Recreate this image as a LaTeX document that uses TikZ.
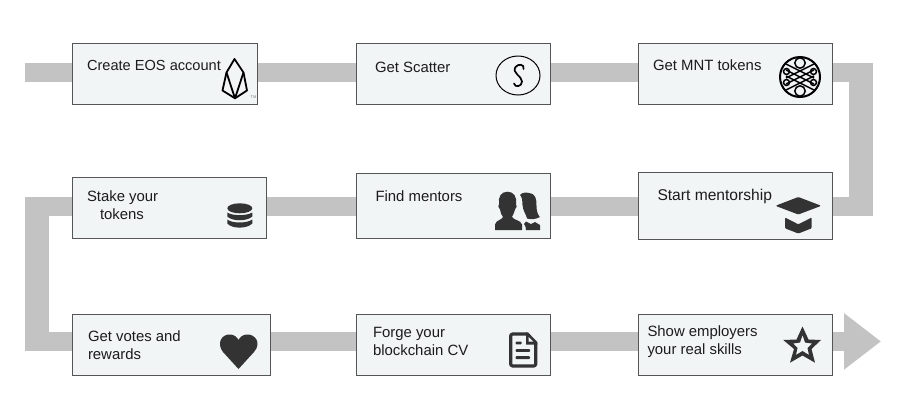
\documentclass[tikz,border=0pt]{standalone}
\usepackage{fontspec}
\setmainfont{Liberation Sans}
\usetikzlibrary{arrows.meta,backgrounds}
\definecolor{bandgray}{HTML}{C3C3C3}
\definecolor{boxfill}{HTML}{F1F5F6}
\definecolor{boxline}{HTML}{555555}
\definecolor{icondark}{HTML}{333333}
\definecolor{textdark}{HTML}{1C1C1C}
\tikzset{
  band/.style={draw=bandgray,line width=19pt,line join=miter},
  bandv/.style={draw=bandgray,line width=24pt},
  box/.style={draw=boxline,fill=boxfill,line width=0.9pt,inner sep=0pt,outer sep=0pt},
  lab/.style={anchor=base west,inner sep=0pt,outer sep=0pt,text=textdark,font=\fontsize{14.9}{17}\selectfont},
  iconline/.style={draw=black,line width=1.8pt,line join=round,fill=none},
  knot/.style={draw=black,line width=1.5pt},
}
\newcommand{\mkbox}[5]{\node[box,minimum width=#4-#2,minimum height=#5-#3] (#1) at ({(#2+#4)/2},{(#3+#5)/2}) {};}
\begin{document}
\begin{tikzpicture}[x=1pt,y=-1pt]
\useasboundingbox (0,0) rectangle (897,418);
\mkbox{n1}{72}{43}{257}{104}
\mkbox{n2}{356.5}{43}{550.5}{104}
\mkbox{n3}{638}{43}{832}{104}
\mkbox{n4}{638}{172}{832.5}{239.5}
\mkbox{n5}{356.5}{173}{550.5}{238}
\mkbox{n6}{72}{177}{266.5}{238}
\mkbox{n7}{72}{314.5}{270}{375.5}
\mkbox{n8}{356.5}{314.5}{550.5}{375.5}
\mkbox{n9}{638}{314.5}{832}{375.5}
\coordinate (r1) at (0,72);
\coordinate (r2) at (0,206.2);
\coordinate (r3) at (0,341.4);
\coordinate (start) at (25.4,72);
\coordinate (crt) at (860.8,62.5);
\coordinate (crb) at (860.8,215.7);
\coordinate (cre) at (872.8,72);
\coordinate (cre2) at (872.8,206.2);
\coordinate (clt) at (37.3,196.7);
\coordinate (clb) at (37.3,350.9);
\coordinate (cle) at (25.3,206.2);
\coordinate (cle2) at (25.3,341.4);
\coordinate (tip) at (881,341.4);
\begin{scope}[on background layer]
\draw[band] (start) -- (n1 |- r1);
\draw[band] (n1 |- r1) -- (n2 |- r1);
\draw[band] (n2 |- r1) -- (n3 |- r1);
\draw[band] (n3 |- r1) -- (cre);
\draw[bandv] (crt) -- (crb);
\draw[band] (cre2) -- (n4 |- r2);
\draw[band] (n4 |- r2) -- (n5 |- r2);
\draw[band] (n5 |- r2) -- (n6 |- r2);
\draw[band] (n6 |- r2) -- (cle);
\draw[bandv] (clt) -- (clb);
\draw[band] (cle2) -- (n7 |- r3);
\draw[band] (n7 |- r3) -- (n8 |- r3);
\draw[band] (n8 |- r3) -- (n9 |- r3);
\draw[band,-{Triangle[length=37pt,width=54pt,color=bandgray]}] (n9 |- r3) -- (tip);
\end{scope}
% labels
\node[lab,font=\fontsize{14.6}{17}\selectfont] (t1) at (87,70) {Create EOS account};
\node[lab] (t2) at (375,72) {Get Scatter};
\node[lab] (t3) at (653,70) {Get MNT tokens};
\node[lab,font=\fontsize{15.6}{17}\selectfont] (t4) at (657.5,200) {Start mentorship};
\node[lab] (t5) at (375.5,201) {Find mentors};
\node[lab] (t6a) at (87,201.7) {Stake your};
\node[lab] (t6b) at (100,219) {tokens};
\node[lab] (t7a) at (88,341) {Get votes and};
\node[lab] (t7b) at (88,359) {rewards};
\node[lab] (t8a) at (373,337.7) {Forge your};
\node[lab] (t8b) at (373,355) {blockchain CV};
\node[lab] (t9a) at (647.5,336) {Show employers};
\node[lab] (t9b) at (647.5,354) {your real skills};
% EOS icon
\draw[iconline] (234.5,59) -- (226.5,72.5) -- (222.5,90.5) -- (235,98.3) -- (247,90.5) -- (243.5,72.5) -- cycle;
\draw[iconline] (226.5,72.5) -- (235,98.3) -- (243.5,72.5);
\node[inner sep=0pt,font=\fontsize{4}{4}\selectfont,text=gray] (tm) at (253.5,97.5) {TM};
% Scatter icon
\draw[black,line width=1pt] (518,75.5) ellipse [x radius=22,y radius=19.5];
\draw[black,line width=1.7pt,line cap=round] (523.5,69) .. controls (525,64) and (518,63.5) .. (515.5,67) .. controls (511.5,73) and (522,76) .. (522,81.5) .. controls (522,86.5) and (515,88) .. (514,83.5);
% MNT icon
\begin{scope}
\draw[black,line width=2pt] (800,77) circle [radius=20];
\clip (800,77) circle [radius=20];
\draw[knot] (800,63) circle [radius=5.2] (800,91) circle [radius=5.2];
\draw[knot] (786.5,71.5) circle [radius=3] (786.5,82.5) circle [radius=3] (813.5,71.5) circle [radius=3] (813.5,82.5) circle [radius=3];
\foreach \c in {-6,0,6}{
\draw[knot] (786,{77+\c-7}) -- (814,{77+\c+7});
\draw[knot] (786,{77+\c+7}) -- (814,{77+\c-7});
}
\end{scope}
% graduation cap
\fill[icondark,rounded corners=1.2pt] (798.3,197) -- (821.3,205.8) -- (798.3,214.5) -- (775.4,205.8) -- cycle;
\fill[icondark,rounded corners=1pt] (785,217.5) -- (798.3,224.3) -- (811.7,217.5) -- (811.7,228.3) -- (798.3,233.5) -- (785,228.3) -- cycle;
% people
\fill[icondark] (520,195) .. controls (522,192) and (527,192.5) .. (529,193) .. controls (535,193) and (537,199) .. (536.5,206) .. controls (536.5,211) and (538,215) .. (539.8,217) .. controls (536,219.5) and (531,219.5) .. (527,218.5) .. controls (526,214) and (523,211) .. (522.5,205) .. controls (522.5,201) and (522,197) .. (520,195) -- cycle;
\fill[icondark] (526,221.5) -- (531,224) -- (535,222) -- (540,225) -- (540,230) -- (526,230) .. controls (526,227) and (525,225) .. (524,224) -- cycle;
\fill[icondark] (507.5,191.7) .. controls (514,191.7) and (517,197) .. (516,204) .. controls (517.5,205) and (516.5,208.5) .. (515,209.5) .. controls (514,213) and (513,215) .. (512,217) .. controls (513,220) and (521,220) .. (522,224.5) -- (522,230) -- (495,230) -- (495,224.5) .. controls (496,220) and (502,220) .. (503,217) .. controls (501.5,215) and (500.5,213) .. (500,209.5) .. controls (498.5,208.5) and (497.5,205) .. (499,204) .. controls (498,197) and (501,191.7) .. (507.5,191.7) -- cycle;
% database
\fill[icondark] (239.8,208.3) ellipse [x radius=12.5,y radius=5];
\fill[icondark] (227.3,212.5) .. controls (232,216) and (247,216) .. (252.3,212.5) -- (252.3,216.5) .. controls (247,221.5) and (232,221.5) .. (227.3,216.5) -- cycle;
\fill[icondark] (227.3,219.5) .. controls (232,223.5) and (247,223.5) .. (252.3,219.5) -- (252.3,223.5) .. controls (247,229) and (232,229) .. (227.3,223.5) -- cycle;
% heart
\fill[icondark] (238.5,369) -- (223,352) .. controls (216,343) and (222,334) .. (230,334.5) .. controls (234,334.5) and (237,337) .. (238.5,340) .. controls (240,337) and (243,334.5) .. (247,334.5) .. controls (255,334) and (262,343) .. (254,352) -- cycle;
% document
\draw[icondark,line width=3.2pt,line join=round,rounded corners=2pt] (527,334) -- (510.7,334) -- (510.7,366) -- (535.7,366) -- (535.7,343);
\fill[icondark] (526,332.4) -- (528,332.4) -- (537.3,342) -- (537.3,344.5) -- (526,344.5) -- cycle;
\fill[boxfill] (528.7,337) -- (528.7,341.7) -- (533.3,341.7) -- cycle;
\fill[icondark,rounded corners=0.8pt] (515.7,341.5) rectangle (521.7,344.3);
\fill[icondark,rounded corners=0.8pt] (515.7,349.2) rectangle (530,351.9);
\fill[icondark,rounded corners=0.8pt] (515.7,356.2) rectangle (530,359);
% star
\fill[icondark,even odd rule] (802.5,326.5) -- (808.5,339.5) -- (821,340) -- (811.5,349) -- (815,362.7) -- (802.5,355.5) -- (790,362.7) -- (794,349) -- (783.3,340) -- (796.5,339.5) -- cycle
(802.5,335) -- (805,342.5) -- (812,343.5) -- (807.5,348) -- (809,355) -- (802.5,351) -- (796,355) -- (797.5,348) -- (793,343.5) -- (800,342.5) -- cycle;
\end{tikzpicture}
\end{document}
